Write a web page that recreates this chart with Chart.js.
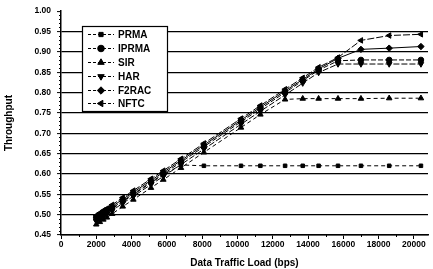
<!DOCTYPE html>
<html>
<head>
<meta charset="utf-8">
<script src="https://cdn.jsdelivr.net/npm/chart.js@4"></script>
<style>
  html, body { margin: 0; padding: 0; background: #fff; }
  #wrap { width: 433px; height: 269px; position: relative; }
</style>
</head>
<body>
<div id="wrap"><canvas id="throughputChart"></canvas></div>
<script>
// traffic loads (bps) on the x axis
const loads = [2000, 2200, 2400, 2600, 2900, 3500, 4100, 5100, 5800, 6800, 8100, 10200, 11300, 12700, 13700, 14600, 15700, 17000, 18600, 20400];

// throughput per protocol
const prma  = [0.488, 0.494, 0.500, 0.505, 0.514, 0.532, 0.549, 0.578, 0.598, 0.622, 0.620, 0.620, 0.620, 0.620, 0.620, 0.620, 0.620, 0.620, 0.620, 0.620];
const iprma = [0.490, 0.496, 0.502, 0.507, 0.516, 0.534, 0.551, 0.580, 0.600, 0.629, 0.667, 0.728, 0.760, 0.800, 0.829, 0.855, 0.878, 0.880, 0.880, 0.880];
const sir   = [0.476, 0.482, 0.488, 0.493, 0.502, 0.520, 0.537, 0.566, 0.586, 0.615, 0.653, 0.714, 0.746, 0.783, 0.785, 0.785, 0.785, 0.785, 0.786, 0.786];
const har   = [0.484, 0.490, 0.496, 0.501, 0.510, 0.528, 0.545, 0.574, 0.594, 0.623, 0.661, 0.722, 0.754, 0.794, 0.823, 0.849, 0.870, 0.870, 0.870, 0.870];
const f2rac = [0.494, 0.500, 0.506, 0.511, 0.520, 0.538, 0.555, 0.584, 0.604, 0.633, 0.671, 0.732, 0.764, 0.804, 0.832, 0.858, 0.884, 0.906, 0.909, 0.913];
const nftc  = [0.498, 0.504, 0.510, 0.515, 0.524, 0.542, 0.559, 0.588, 0.608, 0.637, 0.675, 0.736, 0.768, 0.808, 0.836, 0.862, 0.886, 0.928, 0.940, 0.943];

const seriesNames = ['PRMA', 'IPRMA', 'SIR', 'HAR', 'F2RAC', 'NFTC'];

// x ticks every 2000, y ticks every 0.05
const xTicks = [0, 2000, 4000, 6000, 8000, 10000, 12000, 14000, 16000, 18000, 20000];
const yTicks = [0.45, 0.50, 0.55, 0.60, 0.65, 0.70, 0.75, 0.80, 0.85, 0.90, 0.95, 1.00];

const FONT = '"Liberation Sans", Arial, sans-serif';

function pts(vals) {
    return loads.map((x, i) => ({ x: x, y: vals[i] }));
}

function ds(label, vals, style, rot, dash, size) {
    return {
        label: label,
        data: pts(vals),
        borderColor: '#000',
        backgroundColor: '#000',
        borderWidth: 1,
        borderDash: dash,
        pointStyle: style,
        rotation: rot,
        pointRadius: size,
        pointBorderWidth: 1,
        pointBackgroundColor: '#000',
        pointBorderColor: '#000',
        tension: 0
    };
}

// small ticks between the labelled ones + the legend box
const extras = {
    id: 'extras',
    afterDraw(chart) {
        const c = chart.ctx;
        const xs = chart.scales.x, ys = chart.scales.y;
        const area = chart.chartArea;
        c.save();
        c.strokeStyle = '#000';
        c.lineWidth = 1;
        c.beginPath();
        for (let v = 1000; v <= 20000; v += 2000) {
            const px = Math.round(xs.getPixelForValue(v)) + 0.5;
            c.moveTo(px, area.bottom);
            c.lineTo(px, area.bottom + 2);
        }
        for (let k = 46; k < 100; k++) {
            if (k % 5 === 0) continue;
            const py = Math.round(ys.getPixelForValue(k / 100)) + 0.5;
            c.moveTo(area.left - 2, py);
            c.lineTo(area.left, py);
        }
        c.stroke();

        // legend
        const bx = 82, by = 26, bw = 85, bh = 85;
        c.fillStyle = '#fff';
        c.fillRect(bx, by, bw, bh);
        c.lineWidth = 1.2;
        c.strokeRect(bx + 0.5, by + 0.5, bw, bh);
        const rows = [34, 48, 62, 76, 90, 103];
        chart.data.datasets.forEach((d, i) => {
            const y = rows[i] + 0.5;
            c.lineWidth = 1;
            c.setLineDash([3, 2]);
            c.beginPath();
            c.moveTo(88, y);
            c.lineTo(114, y);
            c.stroke();
            c.setLineDash([]);
            c.fillStyle = '#000';
            Chart.helpers.drawPoint(c, {
                pointStyle: d.pointStyle, rotation: d.rotation, radius: d.pointRadius + 0.5, borderWidth: 1
            }, 101, y);
            c.fillStyle = '#000';
            c.font = 'bold 10px ' + FONT;
            c.textBaseline = 'middle';
            c.fillText(d.label, 118, y + 0.5);
        });
        c.restore();
    }
};

const ctx = document.getElementById('throughputChart').getContext('2d');

new Chart(ctx, {
    type: 'line',
    data: {
        datasets: [
            ds(seriesNames[0], prma, 'rect', 0, [4, 3], 2.5),
            ds(seriesNames[1], iprma, 'circle', 0, [5, 2], 2.8),
            ds(seriesNames[2], sir, 'triangle', 0, [4, 3], 3.2),
            ds(seriesNames[3], har, 'triangle', 180, [6, 2], 3.2),
            ds(seriesNames[4], f2rac, 'rectRot', 0, [], 3.2),
            ds(seriesNames[5], nftc, 'triangle', -90, [7, 2], 3.2)
        ]
    },
    options: {
        responsive: true,
        maintainAspectRatio: false,
        animation: false,
        layout: { padding: { top: 9, right: 3, left: 3, bottom: 0 } },
        plugins: {
            legend: { display: false },
            tooltip: { enabled: false }
        },
        scales: {
            x: {
                type: 'linear',
                min: 0,
                max: 20800,
                afterBuildTicks: (s) => { s.ticks = xTicks.map(v => ({ value: v })); },
                afterFit: (s) => { s.height = 34; },
                border: { color: '#000', width: 1.5 },
                grid: { display: true, drawOnChartArea: false, drawTicks: true, tickLength: 4, tickColor: '#000', tickWidth: 1 },
                ticks: {
                    color: '#000',
                    font: { family: FONT, size: 8.5, weight: 'bold' },
                    padding: 1,
                    maxRotation: 0,
                    autoSkip: false,
                    callback: (v) => String(v)
                },
                title: {
                    display: true,
                    text: 'Data Traffic Load (bps)',
                    color: '#000',
                    font: { family: FONT, size: 10, weight: 'bold' },
                    padding: { top: 2, bottom: 0 }
                }
            },
            y: {
                min: 0.45,
                max: 1.0,
                afterBuildTicks: (s) => { s.ticks = yTicks.map(v => ({ value: v })); },
                afterFit: (s) => { s.width = 58; },
                border: { color: '#000', width: 1.5 },
                grid: {
                    color: (c) => (c.tick && c.tick.value >= 0.999) ? 'rgba(0,0,0,0)' : '#000',
                    lineWidth: 1.2,
                    drawTicks: true,
                    tickLength: 4,
                    tickColor: '#000',
                    tickWidth: 1
                },
                ticks: {
                    color: '#000',
                    font: { family: FONT, size: 8.5, weight: 'bold' },
                    padding: 6,
                    autoSkip: false,
                    callback: (v) => Number(v).toFixed(2)
                },
                title: {
                    display: true,
                    text: 'Throughput',
                    color: '#000',
                    font: { family: FONT, size: 10, weight: 'bold' },
                    padding: { top: 0, bottom: 0 }
                }
            }
        }
    },
    plugins: [extras]
});
</script>
</body>
</html>
